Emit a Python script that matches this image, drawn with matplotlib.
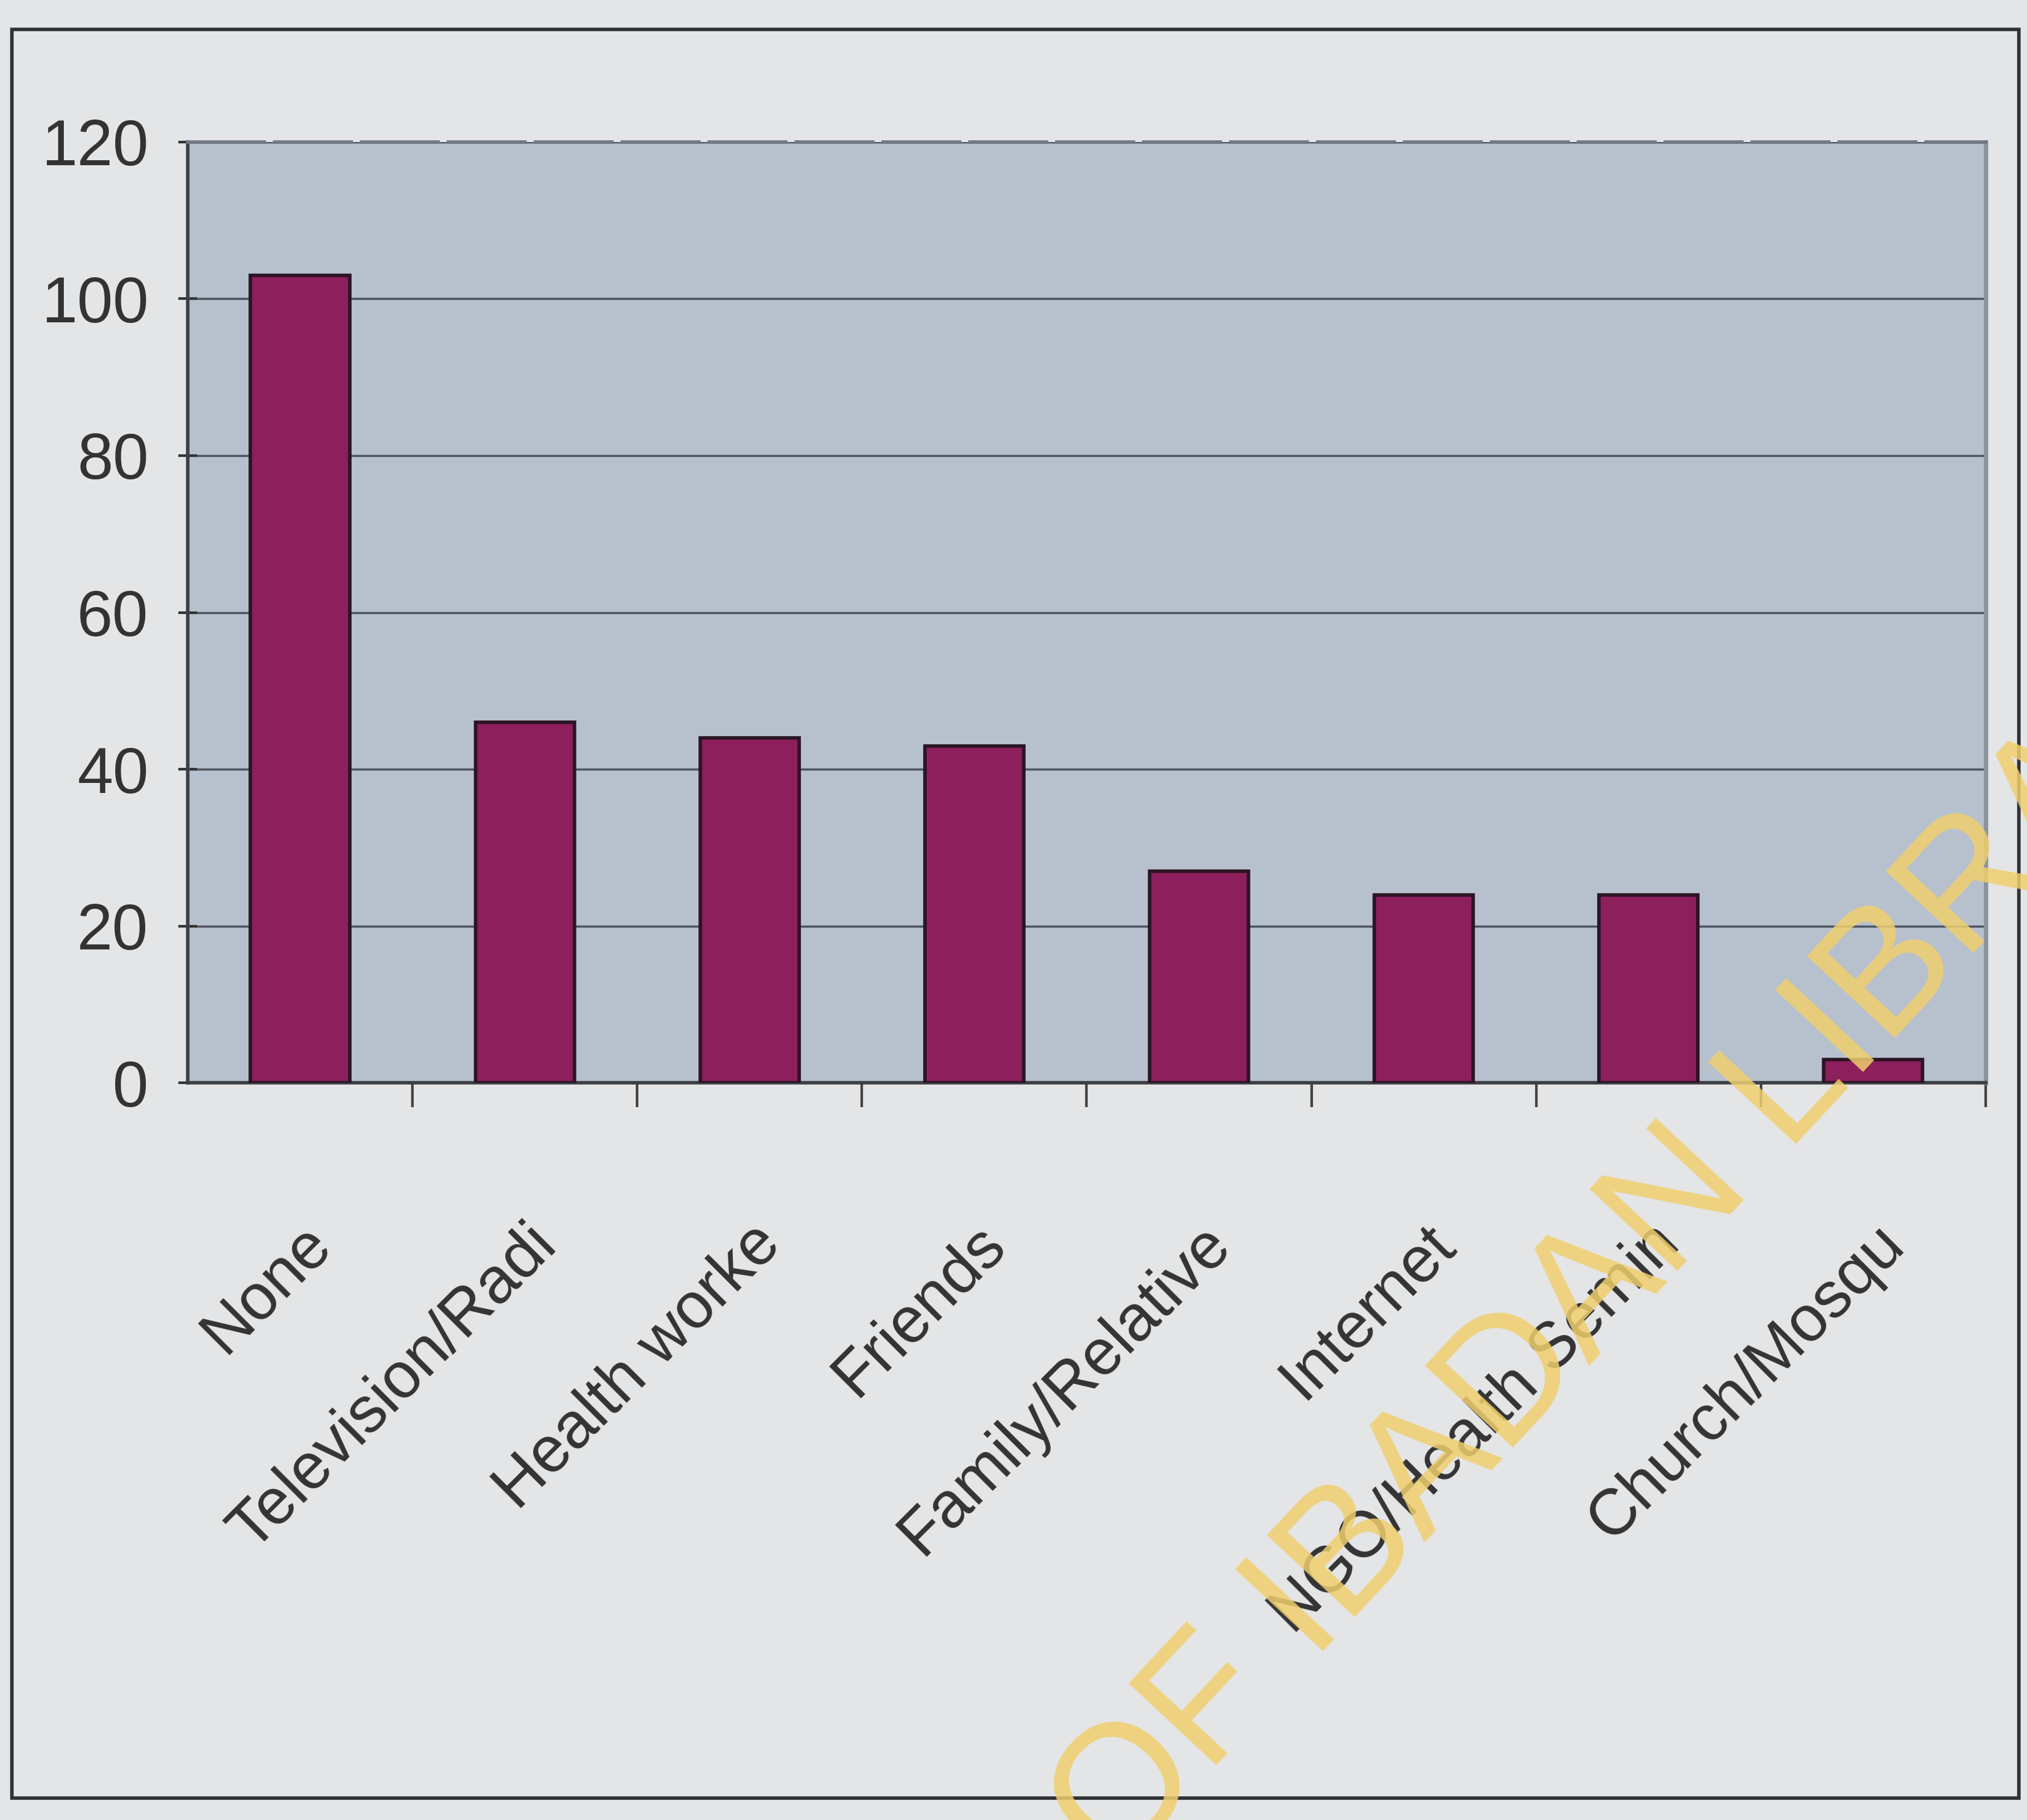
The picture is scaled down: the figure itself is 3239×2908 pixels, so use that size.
import matplotlib.pyplot as plt
import matplotlib.patches as mpatches

# Data
categories = ['None', 'Television/Radi', 'Health worke', 'Friends',
              'Family/Relative', 'Internet', 'NGO/Health Semin', 'Church/Mosqu']
counts = [103, 46, 44, 43, 27, 24, 24, 3]
y_ticks = [0, 20, 40, 60, 80, 100, 120]

plt.rcParams['font.family'] = ['Liberation Sans', 'DejaVu Sans']

fig = plt.figure(figsize=(32.39, 29.08), dpi=100, facecolor='#e4e5e6')
ax = fig.add_axes([0.0926, 0.405, 0.887, 0.517])
ax.set_facecolor('#b7c1cd')

x = list(range(len(categories)))
ax.bar(x, counts, width=0.44, color='#8c1f5c', edgecolor='#2b1424', linewidth=4, zorder=3)

# Axis limits and grid
ax.set_xlim(-0.5, len(categories) - 0.5)
ax.set_ylim(0, 120)
ax.set_yticks(y_ticks)
ax.set_yticklabels([str(v) for v in y_ticks], fontsize=74, color='#333333')
ax.yaxis.grid(True, color='#4d5563', linewidth=2.5, zorder=1)
ax.tick_params(axis='y', direction='inout', length=22, width=3, color='#333333', pad=34)

# Category labels and separator ticks
ax.set_xticks(x)
ax.set_xticklabels(categories, fontsize=74, color='#333333', rotation=45,
                   ha='right', rotation_mode='anchor')
ax.tick_params(axis='x', which='major', length=0, pad=150)
ax.set_xticks([i + 0.5 for i in x[:-1]] + [len(categories) - 0.5], minor=True)
ax.tick_params(axis='x', which='minor', direction='out', length=28, width=3, color='#444444')

# Spines
ax.spines['left'].set_color('#3c3f44')
ax.spines['left'].set_linewidth(4)
ax.spines['bottom'].set_color('#3c3f44')
ax.spines['bottom'].set_linewidth(4)
ax.spines['right'].set_color('#8a939e')
ax.spines['right'].set_linewidth(5)
ax.spines['top'].set_color('#6f7884')
ax.spines['top'].set_linewidth(4)
ax.spines['top'].set_linestyle((0, (22, 3)))

# Outer frame of the chart
frame = mpatches.Rectangle((0.006, 0.012), 0.99, 0.972, transform=fig.transFigure,
                           fill=False, edgecolor='#2f3135', linewidth=4)
fig.patches.append(frame)

# Library watermark
fig.text(0.55, -0.03, 'OF IBADAN LIBRARY', fontsize=200, color='#f0cf6e', alpha=0.85,
         rotation=47, rotation_mode='anchor', ha='left', va='baseline',
         zorder=10)

fig.savefig('out.png', dpi=100, facecolor=fig.get_facecolor())
